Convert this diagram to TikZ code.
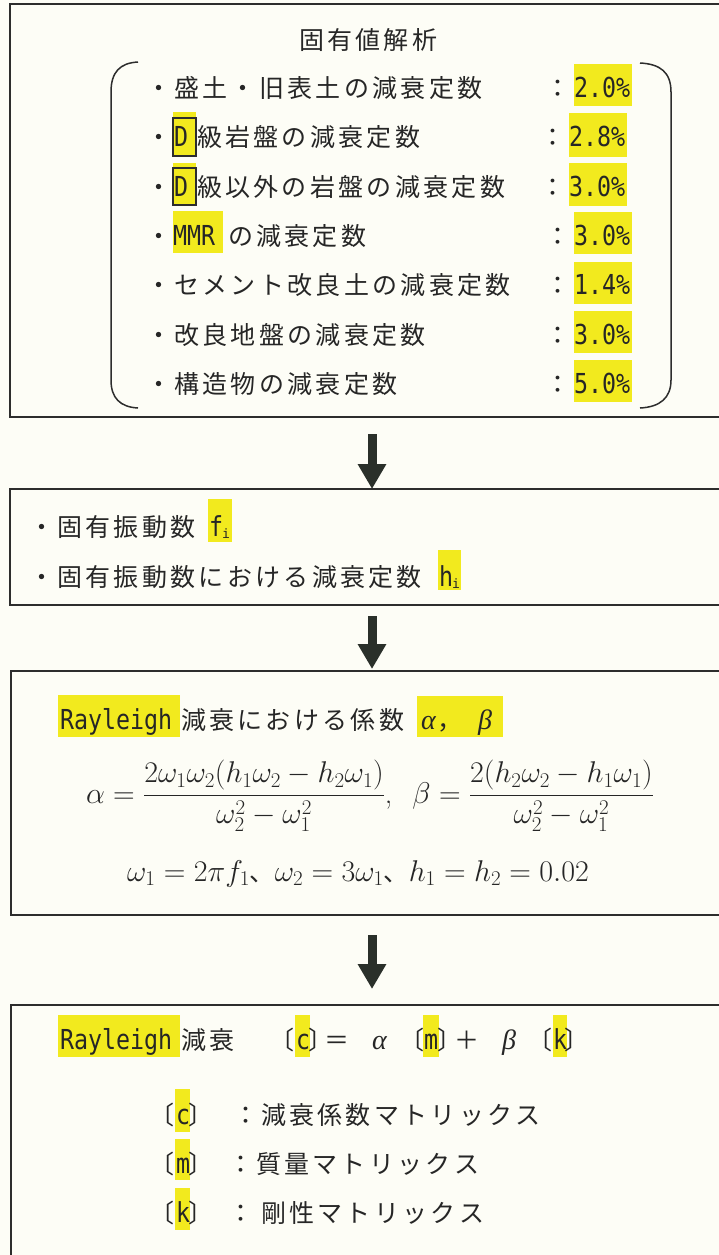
\RequirePackage{fix-cm}
\documentclass[tikz,border=0pt]{standalone}
\usepackage{fontspec}
\usepackage{graphicx}
\usetikzlibrary{arrows.meta}
\newfontfamily\jp{Noto Sans CJK JP}
\newfontfamily\mono{DejaVu Sans Mono}
\newfontfamily\grk{Liberation Serif}
\definecolor{ink}{RGB}{38,38,38}
\definecolor{hl}{RGB}{242,234,30}
\definecolor{bg}{RGB}{253,253,246}
\definecolor{frame}{RGB}{45,45,45}
\definecolor{arr}{RGB}{42,48,42}
\newcommand\jf{\fontsize{25pt}{30pt}\selectfont\jp}
\newcommand\jkern{\kern3.3pt}
\def\J#1{\Jx#1\relax}
\def\Jx#1{\ifx\relax#1\else#1\jkern\expandafter\Jx\fi}
\newcommand\latn[1]{\scalebox{1}[1.18]{\fontsize{23.3pt}{28pt}\selectfont\mono #1}}
\newcommand\latsub[1]{{\fontsize{13pt}{15pt}\selectfont\mono #1}}
\newcommand\gk[1]{{\fontsize{28pt}{32pt}\selectfont\grk\itshape #1}}
\begin{document}
\begin{tikzpicture}[x=1pt,y=-1pt,
  tx/.style={inner sep=0pt,outer sep=0pt,text=ink,font=\jf,anchor=base west},
  txc/.style={inner sep=0pt,outer sep=0pt,text=ink,font=\jf,anchor=base},
  box/.style={draw=frame,line width=1.6pt,inner sep=0pt,outer sep=0pt,anchor=north west},
  bigarrow/.style={draw=arr,line width=9pt,-{Triangle[width=27pt,length=25pt]}},
  paren/.style={draw=frame,line width=1.5pt},
  dframe/.style={draw=frame,line width=1.3pt}]
\fill[bg] (0,0) rectangle (719,1255);
\useasboundingbox (0,0) rectangle (719,1255);

% boxes
\node[box,minimum width=715pt,minimum height=413pt] (b1) at (10,4) {};
\node[box,minimum width=715pt,minimum height=116pt] (b2) at (10,489) {};
\node[box,minimum width=714pt,minimum height=244pt] (b3) at (11,671) {};
\node[box,minimum width=714pt,minimum height=262pt] (b4) at (11,1005) {};

% arrows
\coordinate (a1) at (372,434);
\coordinate (a2) at (372,616);
\coordinate (a3) at (372,935);
\coordinate (a3e) at (372,989);
\draw[bigarrow] (a1) -- (a1 |- b2.north);
\draw[bigarrow,shorten >=2pt] (a2) -- (a2 |- b3.north);
\draw[bigarrow] (a3) -- (a3e);

% parentheses
\draw[paren] (138,62) .. controls (120,63) and (111,72) .. (111,92) -- (111,380) .. controls (111,398) and (120,407) .. (138,408);
\draw[paren] (640,63) .. controls (660,64) and (671,72) .. (671,92) -- (671,380) .. controls (671,398) and (660,407) .. (640,408);

% highlights box 1
\fill[hl] (574,64) rectangle (632,106);
\fill[hl] (569,113) rectangle (627,156.5);
\fill[hl] (569,163) rectangle (627,206);
\fill[hl] (574,212) rectangle (632,254);
\fill[hl] (574,261.5) rectangle (632,303.5);
\fill[hl] (574,311) rectangle (632,353);
\fill[hl] (574,360) rectangle (632,402);
\fill[hl] (173,112) rectangle (196,156);
\draw[dframe] (173,118) rectangle (196,156);
\fill[hl] (173,163) rectangle (196,205);
\draw[dframe] (173,168) rectangle (196,205);
\fill[hl] (173,211) rectangle (223,253);

% box 1 text
\node[tx] (t0) at (299,50) {\J{固有値解析}};
\node[tx] (r1) at (146,97) {\J{・盛土・旧表土の減衰定数}};
\node[tx] (r2a) at (146,146.5) {\J{・}};
\node[tx] (r2b) at (174,146.5) {\latn{D}};
\node[tx] (r2c) at (197,146.5) {\J{級岩盤の減衰定数}};
\node[tx] (r3a) at (146,196) {\J{・}};
\node[tx] (r3b) at (174,196) {\latn{D}};
\node[tx] (r3c) at (197,196) {\J{級以外の岩盤の減衰定数}};
\node[tx] (r4a) at (146,245) {\J{・}};
\node[tx] (r4b) at (173,245) {\latn{MMR}};
\node[tx] (r4c) at (228,245) {\J{の減衰定数}};
\node[tx] (r5) at (146,294.5) {\J{・セメント改良土の減衰定数}};
\node[tx] (r6) at (146,344) {\J{・改良地盤の減衰定数}};
\node[tx] (r7) at (146,393) {\J{・構造物の減衰定数}};
\node[txc] (c1) at (558,97) {：};
\node[txc] (c2) at (553,146.5) {：};
\node[txc] (c3) at (553,196) {：};
\node[txc] (c4) at (558,245) {：};
\node[txc] (c5) at (558,294.5) {：};
\node[txc] (c6) at (558,344) {：};
\node[txc] (c7) at (558,393) {：};
\node[tx] (v1) at (574,97) {\latn{2.0\%}};
\node[tx] (v2) at (569,146.5) {\latn{2.8\%}};
\node[tx] (v3) at (569,196) {\latn{3.0\%}};
\node[tx] (v4) at (574,245) {\latn{3.0\%}};
\node[tx] (v5) at (574,294.5) {\latn{1.4\%}};
\node[tx] (v6) at (574,344) {\latn{3.0\%}};
\node[tx] (v7) at (574,393) {\latn{5.0\%}};

% box 2
\fill[hl] (208,499) rectangle (232,542);
\fill[hl] (438,550) rectangle (461,590);
\node[tx] (s1) at (29,536) {\J{・固有振動数}};
\node[tx] (s1f) at (209,536) {\latn{f}};
\node[tx] (s1i) at (222,538) {\latsub{i}};
\node[tx] (s2) at (29,586) {\J{・固有振動数における減衰定数}};
\node[tx] (s2h) at (439,586) {\latn{h}};
\node[tx] (s2i) at (452,588) {\latsub{i}};

% box 3
\fill[hl] (58,695) rectangle (180,737);
\fill[hl] (417,696) rectangle (503,737);
\node[tx] (p1) at (60,729) {\latn{Rayleigh}};
\node[tx] (p2) at (181,729) {\J{減衰における係数}};
\node[tx] (p3) at (421,729) {\gk{α}};
\node[tx] (p4) at (437,729) {，};
\node[tx] (p5) at (478,729) {\gk{β}};
\node[txc,font=\fontsize{30pt}{36pt}\selectfont] (eq1) at (370,803)
  {$\displaystyle \alpha=\frac{2\omega_1\omega_2(h_1\omega_2-h_2\omega_1)}{\omega_2^2-\omega_1^2}$,\hspace{20pt}$\displaystyle\beta=\frac{2(h_2\omega_2-h_1\omega_1)}{\omega_2^2-\omega_1^2}$};
\node[txc,font=\fontsize{30pt}{36pt}\selectfont] (eq2) at (358,881)
  {$\omega_1=2\pi f_1${\jf 、}$\omega_2=3\omega_1${\jf 、}$h_1=h_2=0.02$};

% box 4
\fill[hl] (58,1015) rectangle (180,1057);
\fill[hl] (295,1015) rectangle (310,1057);
\fill[hl] (423,1015) rectangle (439,1057);
\fill[hl] (553,1015) rectangle (567,1057);
\node[tx] (q1) at (60,1049) {\latn{Rayleigh}};
\node[tx] (q2) at (181,1049) {\J{減衰}};
\node[tx,anchor=base east] (q3) at (294,1049) {〔};
\node[tx] (q4) at (296,1049) {\latn{c}};
\node[tx] (q5) at (308,1049) {〕};
\node[txc] (q6) at (337,1049) {＝};
\node[tx] (q7) at (372,1049) {\gk{α}};
\node[tx,anchor=base east] (q8) at (424,1049) {〔};
\node[tx] (q9) at (424,1049) {\latn{m}};
\node[tx] (q10) at (437,1049) {〕};
\node[txc] (q11) at (467,1049) {＋};
\node[tx] (q12) at (502,1049) {\gk{β}};
\node[tx,anchor=base east] (q13) at (552,1049) {〔};
\node[tx] (q14) at (553,1049) {\latn{k}};
\node[tx] (q15) at (564,1049) {〕};

\fill[hl] (175,1089) rectangle (190,1132);
\fill[hl] (175,1139) rectangle (190,1180);
\fill[hl] (175,1188) rectangle (190,1230);
\node[tx,anchor=base east] (m1a) at (174,1124) {〔};
\node[tx] (m1b) at (176,1124) {\latn{c}};
\node[tx] (m1c) at (188,1124) {〕};
\node[txc] (m1d) at (246,1124) {：};
\node[tx] (m1e) at (261,1124) {\J{減衰係数マトリックス}};
\node[tx,anchor=base east] (m2a) at (174,1173) {〔};
\node[tx] (m2b) at (176,1173) {\latn{m}};
\node[tx] (m2c) at (188,1173) {〕};
\node[txc] (m2d) at (241,1173) {：};
\node[tx] (m2e) at (256,1173) {\J{質量マトリックス}};
\node[tx,anchor=base east] (m3a) at (174,1222) {〔};
\node[tx] (m3b) at (176,1222) {\latn{k}};
\node[tx] (m3c) at (188,1222) {〕};
\node[txc] (m3d) at (241,1222) {：};
\node[tx] (m3e) at (261,1222) {\J{剛性マトリックス}};
\end{tikzpicture}
\end{document}
